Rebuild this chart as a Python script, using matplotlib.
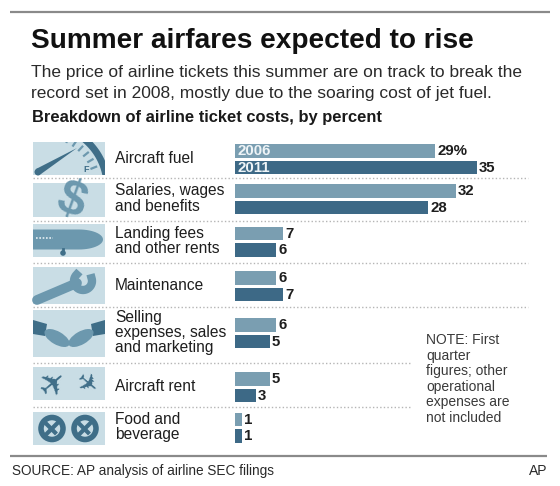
import matplotlib
matplotlib.use("Agg")
import matplotlib.pyplot as plt
from matplotlib.patches import Rectangle, Polygon, Circle, Ellipse
import numpy as np

plt.rcParams['font.family'] = ['Liberation Sans', 'DejaVu Sans']

# data
categories = [
    ["Aircraft fuel"],
    ["Salaries, wages", "and benefits"],
    ["Landing fees", "and other rents"],
    ["Maintenance"],
    ["Selling", "expenses, sales", "and marketing"],
    ["Aircraft rent"],
    ["Food and", "beverage"],
]
values_2006 = [29, 32, 7, 6, 6, 5, 1]
values_2011 = [35, 28, 6, 7, 5, 3, 1]
series_names = ["2006", "2011"]

title = "Summer airfares expected to rise"
subtitle = ["The price of airline tickets this summer are on track to break the",
            "record set in 2008, mostly due to the soaring cost of jet fuel."]
subhead = "Breakdown of airline ticket costs, by percent"
note = ["NOTE: First", "quarter", "figures; other", "operational",
        "expenses are", "not included"]
source = "SOURCE: AP analysis of airline SEC filings"

# layout (pixels, y down)
W, H = 560, 486
row_y = [159, 199, 241.5, 286, 333, 387, 427.5]
icon_top = [142, 183, 224, 267, 310, 367, 412]
icon_h = [33, 34, 33, 37, 47, 33, 33]
sep_y = [178.5, 220.5, 262.5, 306.5, 362.5, 406.5]
sep_end = [528, 528, 528, 528, 411, 411]
bar_left = 235
px_per_unit = 6.9

c06 = "#7a9eb1"
c11 = "#3d6986"
icon_bg = "#c9dde5"
glyph_l = "#6c98ae"
glyph_d = "#3f6e88"
txt = "#1e1e1e"

fig = plt.figure(figsize=(W / 100, H / 100), dpi=100)
bg = fig.add_axes([0, 0, 1, 1])
bg.set_xlim(0, W)
bg.set_ylim(H, 0)
bg.axis("off")

ax = fig.add_axes([bar_left / W, 0, (W - bar_left) / W, 1])
ax.set_xlim(0, (W - bar_left) / px_per_unit)
ax.set_ylim(H, 0)
ax.axis("off")


def px(pt):
    return pt * 100 / 72.0


def put_lines(x, yc, lines, pitch, size, **kw):
    n = len(lines)
    cap = 0.72 * px(size)
    for i, s in enumerate(lines):
        y = yc + (i - (n - 1) / 2.0) * pitch + cap / 2.0
        bg.text(x, y, s, fontsize=size, va="baseline", **kw)


# header
bg.plot([10, 550], [12, 12], color="#8a8a8a", lw=1.6, solid_capstyle="butt")
bg.text(31, 48, title, fontsize=20.2, fontweight="bold", va="baseline",
        color="#111111")
for i, s in enumerate(subtitle):
    bg.text(31, 77 + i * 21, s, fontsize=12.5, va="baseline", color="#2a2a2a")
bg.text(32, 122, subhead, fontsize=11.9, fontweight="bold", va="baseline",
        color="#1a1a1a")

# separators
for y, xe in zip(sep_y, sep_end):
    bg.plot([33, xe], [y, y], color="#b5b5b5", lw=1.0, ls=(0, (1, 1.6)))

# bars
off = 8.25
bh = 13.5
y06 = [y - off for y in row_y]
y11 = [y + off for y in row_y]
ax.barh(y06, values_2006, height=bh, color=c06, left=0)
ax.barh(y11, values_2011, height=bh, color=c11, left=0)

for i, (a, b) in enumerate(zip(values_2006, values_2011)):
    la = "%d%%" % a if i == 0 else "%d" % a
    ax.text(a + 0.3, y06[i] + 0.5, la, fontsize=10.8, fontweight="bold",
            va="center", ha="left", color=txt)
    ax.text(b + 0.3, y11[i] + 0.5, "%d" % b, fontsize=10.8, fontweight="bold",
            va="center", ha="left", color=txt)

ax.text(0.35, y06[0] + 0.5, series_names[0], fontsize=10.8, fontweight="bold",
        color="#eef4f7", va="center")
ax.text(0.35, y11[0] + 0.5, series_names[1], fontsize=10.8, fontweight="bold",
        color="#eef4f7", va="center")

# category labels
for i, lines in enumerate(categories):
    put_lines(115, row_y[i] - 1.5, lines, 15.3, 11.2, color=txt)

# icons
for i in range(len(categories)):
    bg.add_patch(Rectangle((33, icon_top[i]), 72, icon_h[i], color=icon_bg, lw=0))

# fuel gauge
x0, y0, h = 33, icon_top[0], icon_h[0]
box = Rectangle((x0, y0), 72, h, transform=bg.transData)
t = np.linspace(np.pi * 0.05, np.pi * 0.6, 60)
cx, cy = x0 + 12, y0 + h + 12
ln, = bg.plot(cx + 62 * np.cos(t), cy - 62 * np.sin(t), color=glyph_d, lw=5)
ln.set_clip_path(box)
for a in np.linspace(np.pi * 0.12, np.pi * 0.5, 9):
    r1, r2 = 50, 55
    ln, = bg.plot([cx + r1 * np.cos(a), cx + r2 * np.cos(a)],
                  [cy - r1 * np.sin(a), cy - r2 * np.sin(a)], color=glyph_l, lw=1.6)
    ln.set_clip_path(box)
bg.add_patch(Polygon([[x0 + 3, y0 + h - 6], [x0 + 8, y0 + h - 1],
                      [x0 + 44, y0 + 6]], closed=True, color=glyph_d, lw=0))
bg.add_patch(Circle((x0 + 5, y0 + h - 3), 3.5, color=glyph_d, lw=0))
bg.text(x0 + 50, y0 + h - 3, "F", fontsize=6.5, color=glyph_d, fontweight="bold")

# dollar sign
x0, y0, h = 33, icon_top[1], icon_h[1]
bg.text(x0 + 38, y0 + h / 2 + 1, "$", fontsize=36, fontweight="bold", color=glyph_l,
        rotation=-20, ha="center", va="center")

# plane nose
x0, y0, h = 33, icon_top[2], icon_h[2]
cyb = y0 + h / 2 - 1
tt = np.linspace(-np.pi / 2, np.pi / 2, 30)
nose = [[x0 + 46 + 24 * np.cos(a), cyb + 10 * np.sin(a)] for a in tt]
body = [[x0, cyb + 10], [x0, cyb - 10]] + nose
bg.add_patch(Polygon(body, closed=True, color=glyph_l, lw=0))
bg.plot([x0 + 3, x0 + 20], [cyb - 2, cyb - 2], color="#e6eff3",
        lw=1.2, ls=(0, (1, 1)))
bg.plot([x0 + 30, x0 + 30], [cyb + 9, y0 + h - 4], color=glyph_d, lw=2)
bg.add_patch(Circle((x0 + 30, y0 + h - 4), 2.8, color=glyph_d, lw=0))

# wrench
x0, y0, h = 33, icon_top[3], icon_h[3]
bg.plot([x0 + 4, x0 + 44], [y0 + h - 4, y0 + 16], color=glyph_l, lw=7,
        solid_capstyle="round")
ta = np.linspace(np.pi * 0.75, np.pi * 2.1, 40)
bg.plot(x0 + 50 + 9 * np.cos(ta), y0 + 14 - 9 * np.sin(ta), color=glyph_l, lw=6)

# handshake
x0, y0, h = 33, icon_top[4], icon_h[4]
bg.add_patch(Polygon([[x0, y0 + 10], [x0 + 14, y0 + 14], [x0 + 12, y0 + 26],
                      [x0, y0 + 24]], closed=True, color=glyph_d, lw=0))
bg.add_patch(Polygon([[x0 + 72, y0 + 10], [x0 + 58, y0 + 14], [x0 + 60, y0 + 26],
                      [x0 + 72, y0 + 24]], closed=True, color=glyph_d, lw=0))
bg.add_patch(Ellipse((x0 + 24, y0 + 28), 28, 13, angle=30, color=glyph_l, lw=0))
bg.add_patch(Ellipse((x0 + 48, y0 + 28), 28, 13, angle=-30, color=glyph_l, lw=0))

# planes
x0, y0, h = 33, icon_top[5], icon_h[5]
bg.text(x0 + 20, y0 + h / 2 + 1, "\u2708", fontsize=24, color=glyph_d,
        family="DejaVu Sans", rotation=40, ha="center", va="center")
bg.text(x0 + 52, y0 + h / 2 + 1, "\u2708", fontsize=19, color=glyph_d,
        family="DejaVu Sans", rotation=-40, ha="center", va="center")

# pretzels
x0, y0, h = 33, icon_top[6], icon_h[6]
for cxp in (x0 + 19, x0 + 52):
    cyp = y0 + h / 2
    bg.add_patch(Circle((cxp, cyp), 11, fill=False, ec=glyph_d, lw=4))
    bg.plot([cxp - 7, cxp + 7], [cyp + 7, cyp - 7], color=glyph_d, lw=3)
    bg.plot([cxp - 7, cxp + 3], [cyp - 6, cyp + 4], color=glyph_d, lw=3)

# note
for i, s in enumerate(note):
    bg.text(426, 344 + i * 15.6, s, fontsize=10, va="baseline", color="#3a3a3a")

# footer
bg.plot([10, 547], [456, 456], color="#8a8a8a", lw=1.6, solid_capstyle="butt")
bg.text(12, 475, source, fontsize=9.8, va="baseline", color="#2a2a2a")
bg.text(547, 475, "AP", fontsize=10, va="baseline", ha="right", color="#2a2a2a")

fig.savefig("out.png", dpi=100, facecolor="white")
